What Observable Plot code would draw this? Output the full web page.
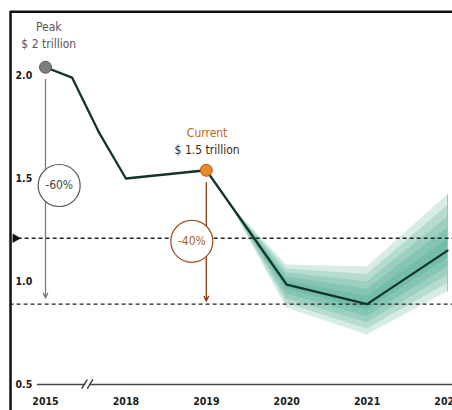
<!DOCTYPE html>
<html><head><meta charset="utf-8">
<script src="https://cdn.jsdelivr.net/npm/d3@7"></script>
<script src="https://cdn.jsdelivr.net/npm/@observablehq/plot@0.6"></script>
<style>
body{margin:0;background:#fff;}
#chart svg{display:block;font-family:"Liberation Sans Narrow","Arial Narrow","DejaVu Sans Condensed",sans-serif;font-stretch:condensed;}
</style></head><body><div id="chart"></div>
<script>
// Broken time axis: 2015 sits one step left of 2018, then one step per year
const yearPos = [0, 1, 2, 3, 4, 5];
const yearLabels = ["2015", "2018", "2019", "2020", "2021", "2022"];
const yTicks = [0.5, 1.0, 1.5, 2.0];

// Main series ($ trillion)
const seriesPos = [0, 0.33, 0.67, 1, 2, 3, 4, 5];
const seriesVal = [2.04, 1.99, 1.72, 1.50, 1.54, 0.985, 0.89, 1.15];

// Forecast uncertainty band
const bandPos = [2.3, 3, 4, 5];
const bandMid = [1.373, 0.985, 0.89, 1.15];
const bandHi  = [1.373, 1.08, 1.07, 1.42];
const bandLo  = [1.373, 0.87, 0.74, 0.95];
const bandLevels = [1, 0.8, 0.6, 0.4, 0.2];

// Reference (dashed) levels
const refVal = [1.21, 0.89];
const refFrom = [-0.34, -0.44];
const refTo = [5.1, 5.1];
const markerPos = [-0.375];

// Frame edges (domain units)
const frameLeft = -0.435;
const frameTop = 2.31;

// Baseline with axis break
const baseVal = 0.5;
const baseFrom = [-0.1, 0.55];
const baseTo = [0.5, 5.1];
const breakFrom = [0.45, 0.52];
const breakTo = [0.52, 0.59];
const breakLo = 0.48, breakHi = 0.525;

// Drop arrows
const dropX = [0, 2];
const dropFrom = [1.98, 1.48];
const dropTo = [0.92, 0.905];
const dropColor = ["#7a7a7a", "#8a3a12"];

// Percent badges
const badgeX = [0.17, 1.82];
const badgeY = [1.466, 1.195];
const badgeText = ["-60%", "-40%"];
const badgeStroke = ["#555555", "#9a4a18"];
const badgeFill = ["#444444", "#b0601e"];

// Highlight points
const hiX = [0, 2];
const hiY = [2.04, 1.54];
const hiFill = ["#7d7d7d", "#e8892a"];
const hiStroke = ["#5a5a5a", "#b35a10"];

// Annotations
const noteX = [0.04, 0.04, 2.01, 2.01];
const noteY = [2.233, 2.15, 1.718, 1.636];
const noteText = ["Peak", "$ 2 trillion", "Current", "$ 1.5 trillion"];
const noteColor = ["#555555", "#555555", "#c0641c", "#3a2614"];
const noteWeight = ["normal", "normal", "bold", "normal"];

const band = [];
bandLevels.forEach((f, k) => bandPos.forEach((x, i) => band.push({
  level: k, x,
  lo: bandMid[i] + f * (bandLo[i] - bandMid[i]),
  hi: bandMid[i] + f * (bandHi[i] - bandMid[i])
})));
const series = seriesPos.map((x, i) => ({x, y: seriesVal[i]}));
const refs = refVal.map((y, i) => ({y, x1: refFrom[i], x2: refTo[i]}));
const base = baseFrom.map((x1, i) => ({x1, x2: baseTo[i]}));
const breaks = breakFrom.map((x1, i) => ({x1, x2: breakTo[i]}));
const drops = dropX.map((x, i) => ({x, y1: dropFrom[i], y2: dropTo[i], c: dropColor[i]}));
const badges = badgeX.map((x, i) => ({x, y: badgeY[i], t: badgeText[i], s: badgeStroke[i], f: badgeFill[i]}));
const his = hiX.map((x, i) => ({x, y: hiY[i], f: hiFill[i], s: hiStroke[i]}));
const notes = noteX.map((x, i) => ({x, y: noteY[i], t: noteText[i], c: noteColor[i], w: noteWeight[i]}));

const chart = Plot.plot({
  width: 452, height: 410,
  marginLeft: 10, marginTop: 11, marginRight: 0, marginBottom: 0,
  x: {domain: [0, 5], range: [45, 447], axis: null},
  y: {domain: [0.5, 2.0], range: [384, 75], axis: null},
  marks: [
    ...bandLevels.map((f, k) => Plot.areaY(band.filter(d => d.level === k), {
      x: "x", y1: "lo", y2: "hi", fill: "#2a9c7c", fillOpacity: 0.19
    })),
    Plot.ruleX([bandPos[bandPos.length - 1]], {y1: bandLo[3], y2: bandHi[3], stroke: "#9cc7b9", strokeWidth: 1}),
    Plot.ruleY(refs, {y: "y", x1: "x1", x2: "x2", stroke: "#222", strokeWidth: 1.3, strokeDasharray: "4,3"}),
    Plot.dot(markerPos, {x: d => d, y: refVal[0], symbol: "triangle", rotate: 90, r: 3.6, fill: "#111", stroke: "none"}),
    Plot.ruleY(base, {y: baseVal, x1: "x1", x2: "x2", stroke: "#444", strokeWidth: 1.5}),
    Plot.link(breaks, {x1: "x1", x2: "x2", y1: breakLo, y2: breakHi, stroke: "#444", strokeWidth: 1.5}),
    Plot.arrow(drops, {x: "x", y1: "y1", y2: "y2", stroke: "c", strokeWidth: 1.3, headLength: 6, headAngle: 50}),
    Plot.dot(badges, {x: "x", y: "y", r: 21, fill: "white", stroke: "s", strokeWidth: 1.2}),
    Plot.text(badges, {x: "x", y: "y", text: "t", fill: "f", fontSize: 12}),
    Plot.line(series, {x: "x", y: "y", stroke: "#13332b", strokeWidth: 2.3, strokeLinejoin: "round"}),
    Plot.dot(his, {x: "x", y: "y", r: 6, fill: "f", stroke: "s", strokeWidth: 1}),
    Plot.text(notes, {x: "x", y: "y", text: "t", fill: "c", fontWeight: "w", fontSize: 12}),
    Plot.text(yTicks, {y: d => d, text: d => d.toFixed(1), frameAnchor: "left", dx: 5, textAnchor: "start", fontWeight: "bold", fontSize: 10.5, fill: "#1a1a1a"}),
    Plot.text(yearPos, {x: d => d, text: (d, i) => yearLabels[i], frameAnchor: "bottom", dy: -6, fontWeight: "bold", fontSize: 10.5, fill: "#1a1a1a"}),
    Plot.ruleX([frameLeft], {stroke: "#111", strokeWidth: 2.5}),
    Plot.ruleY([frameTop], {x1: frameLeft, x2: 5.2, stroke: "#111", strokeWidth: 2.5})
  ]
});
document.getElementById("chart").append(chart);
</script></body></html>
